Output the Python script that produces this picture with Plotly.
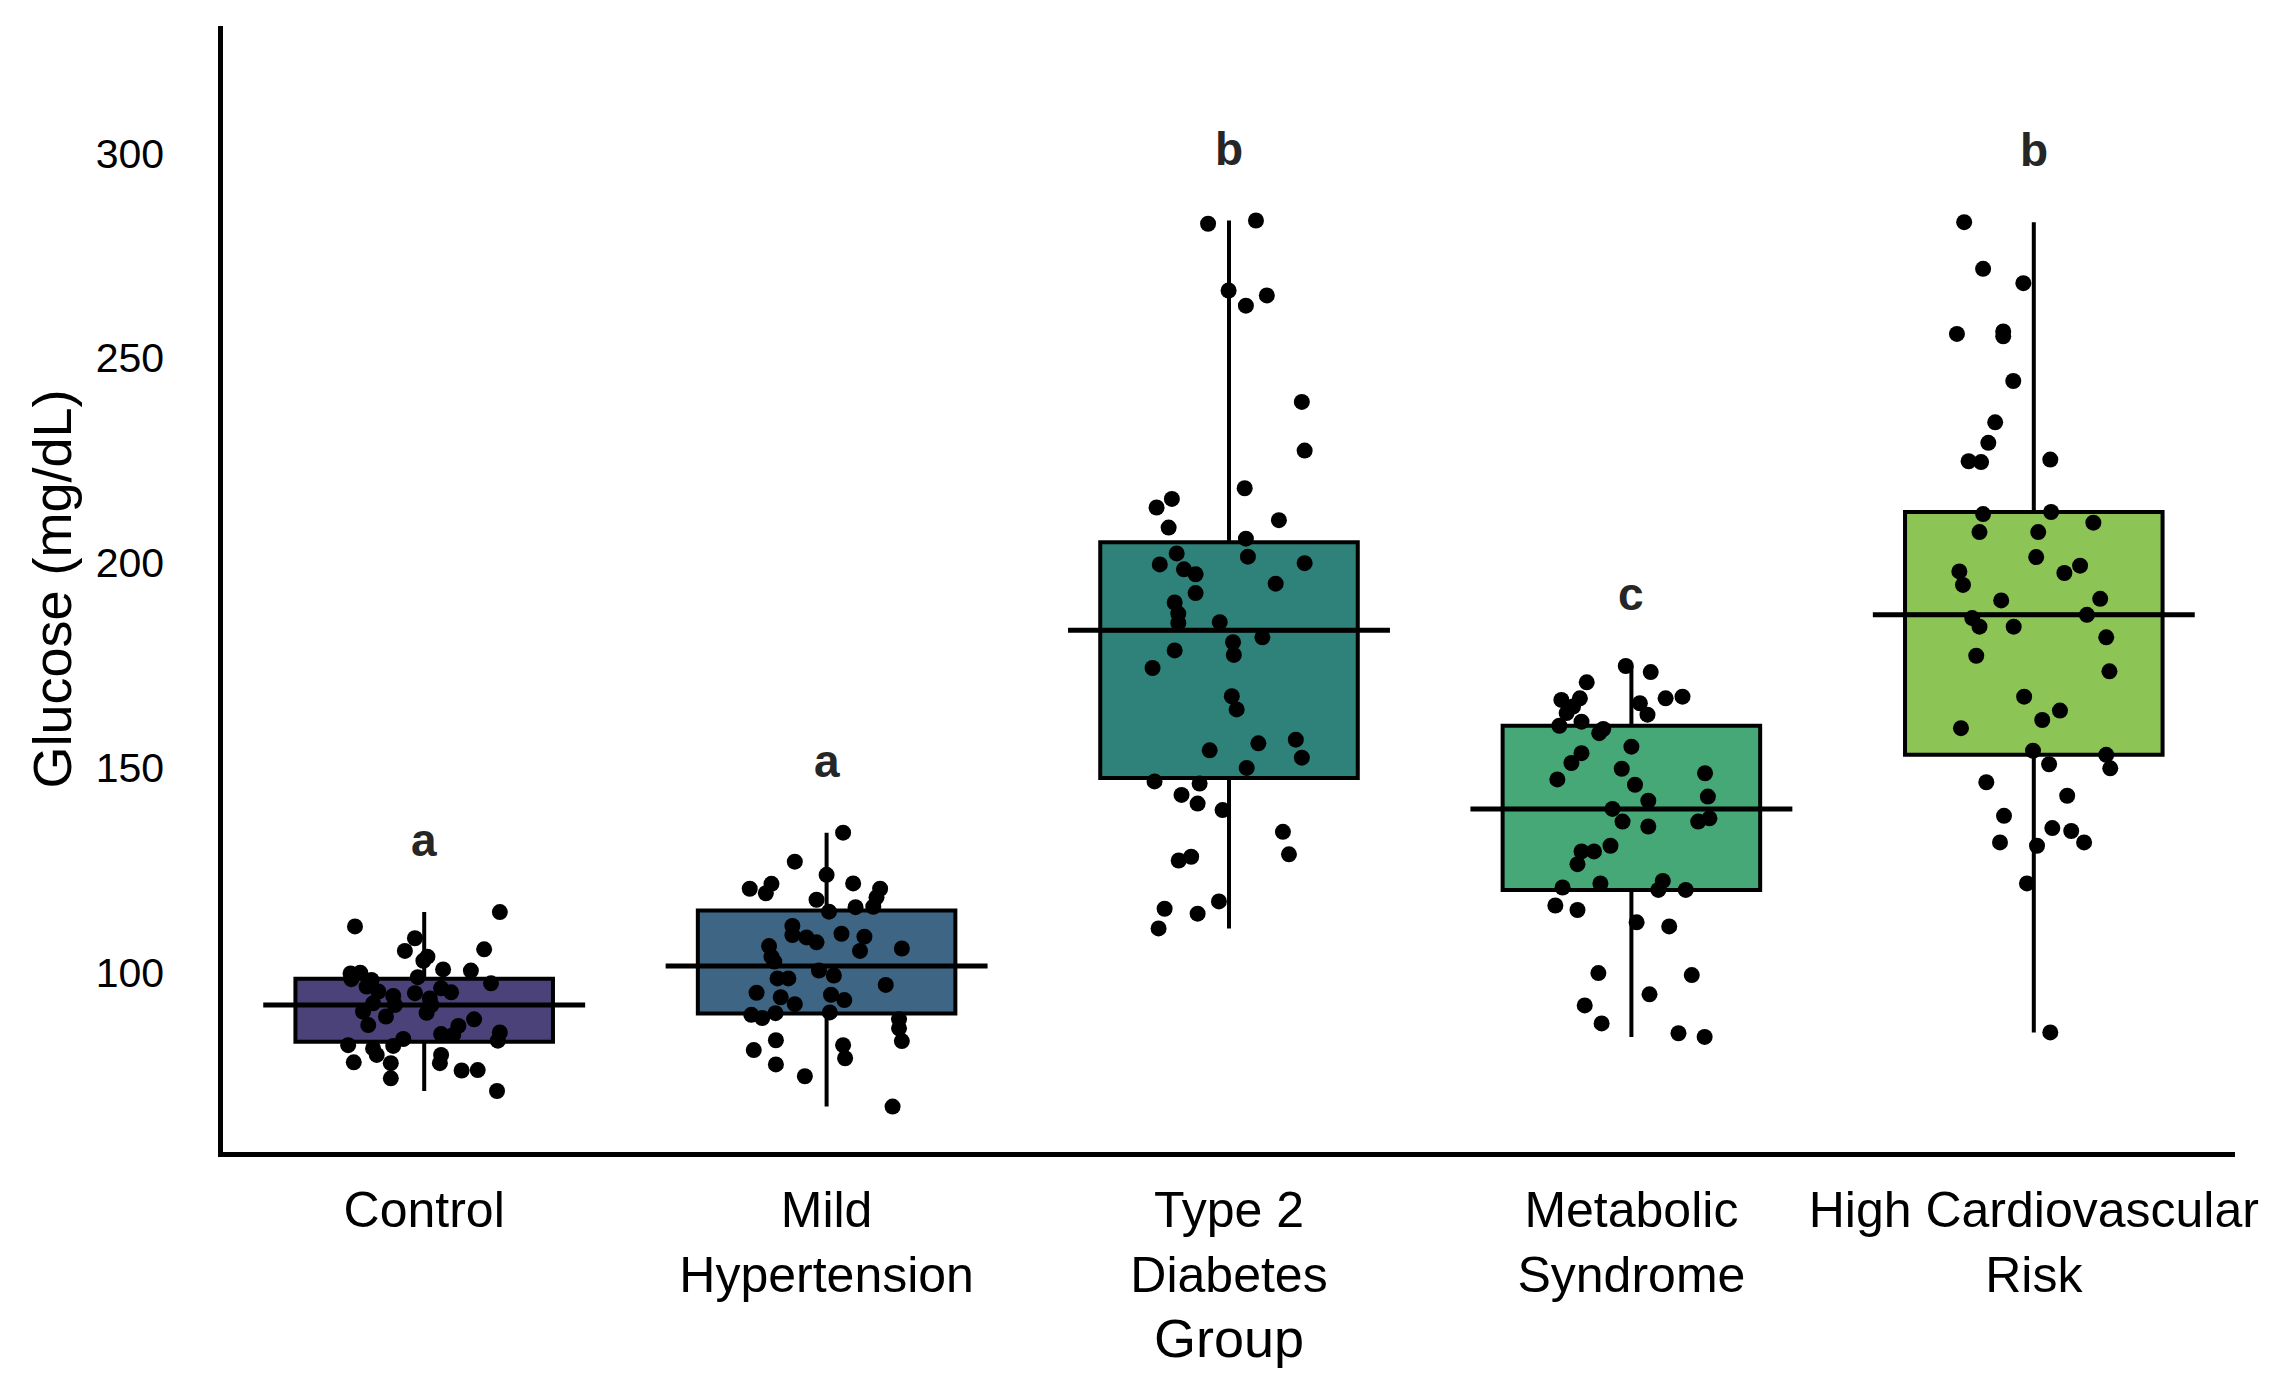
import numpy as np
import plotly.graph_objects as go

# groups shown on the x axis
groups = ["Control", "Mild<br>Hypertension", "Type 2<br>Diabetes",
          "Metabolic<br>Syndrome", "High Cardiovascular<br>Risk"]
letters = ["a", "a", "b", "c", "b"]
box_colors = ["#4a4278", "#3e6684", "#2e8279", "#46a876", "#8cc456"]

# glucose values (mg/dL) and the horizontal jitter of each dot
control_glucose = [114.7, 111.2, 108.3, 105.2, 105.6, 103.8, 102.8, 100.7, 100.4, 99.7,
                   99.9, 98.3, 98.8, 98.1, 97.3, 96.5, 95.3, 96.1, 95.1, 94.9,
                   94.2, 93.6, 92.4, 92.0, 92.0, 90.4, 90.1, 89.2, 88.5, 87.1,
                   86.9, 85.3, 84.9, 84.7, 83.7, 82.2, 83.3, 82.0, 81.4, 79.8,
                   79.8, 77.8, 78.0, 77.8, 76.0, 76.1, 74.1, 71.0]
control_jitter = [0.188, -0.172, -0.023, -0.048, 0.149, 0.008, -0.002, 0.047, 0.116, -0.183,
                  -0.159, -0.181, -0.016, -0.131, 0.166, -0.143, -0.114, 0.042, 0.067, -0.023,
                  -0.077, 0.014, -0.127, -0.073, 0.018, -0.152, 0.006, -0.095, 0.124, -0.139,
                  0.085, 0.188, 0.042, 0.072, -0.052, -0.189, 0.183, -0.077, -0.127, -0.118,
                  0.042, 0.039, -0.175, -0.083, 0.093, 0.133, -0.083, 0.181]

mild_glucose = [134.1, 127.0, 123.8, 120.4, 121.6, 119.3, 121.7, 120.4, 118.3, 116.0,
                117.7, 115.9, 114.8, 111.3, 109.1, 108.5, 107.3, 109.4, 108.7, 105.2,
                105.8, 106.4, 103.8, 102.6, 100.4, 99.2, 98.5, 98.5, 96.9, 95.0,
                93.9, 94.5, 93.2, 92.2, 89.6, 88.8, 90.0, 90.2, 88.5, 86.3,
                83.2, 83.4, 81.0, 82.2, 79.0, 77.5, 74.6, 67.2]
mild_jitter = [0.041, -0.079, 0.000, -0.191, -0.137, -0.151, 0.066, 0.133, 0.124, 0.116,
               -0.025, 0.072, 0.006, -0.085, -0.085, -0.050, -0.025, 0.037, 0.094, 0.083,
               0.187, -0.143, -0.137, -0.130, -0.019, 0.018, -0.122, -0.095, 0.147, -0.174,
               -0.114, 0.011, 0.044, -0.079, -0.187, -0.160, -0.127, 0.008, 0.180, 0.180,
               0.187, -0.126, -0.181, 0.041, 0.046, -0.126, -0.054, 0.164]

t2d_glucose = [282.8, 283.6, 266.5, 265.3, 262.8, 239.3, 227.4, 218.2, 215.6, 213.5,
               208.6, 210.4, 205.9, 201.5, 202.3, 199.6, 199.9, 198.4, 197.2, 194.9,
               192.6, 190.3, 187.6, 185.3, 185.5, 181.8, 180.6, 177.5, 178.6, 174.3,
               167.4, 164.2, 154.2, 155.9, 156.8, 152.4, 149.9, 146.6, 146.1, 143.3,
               141.2, 139.6, 134.3, 128.8, 127.3, 128.2, 117.3, 115.5, 114.3, 110.7]
t2d_jitter = [-0.052, 0.067, -0.001, 0.094, 0.042, 0.181, 0.188, 0.039, -0.142, -0.180,
              -0.150, 0.124, 0.042, 0.047, -0.130, -0.172, 0.188, -0.112, -0.083, 0.116,
              -0.083, -0.135, -0.126, -0.126, -0.023, 0.083, 0.010, 0.012, -0.135, -0.190,
              0.007, 0.019, -0.048, 0.073, 0.166, 0.181, 0.044, -0.185, -0.073, -0.118,
              -0.078, -0.016, 0.134, 0.149, -0.125, -0.094, -0.025, -0.160, -0.078, -0.175]

metabolic_glucose = [174.8, 173.3, 170.8, 166.5, 166.9, 164.9, 163.3, 165.7, 162.9, 166.9,
                     167.3, 160.2, 161.2, 158.4, 159.4, 155.1, 153.5, 151.1, 147.1, 149.7,
                     145.8, 148.6, 142.9, 141.9, 139.9, 136.8, 135.6, 136.8, 137.6, 130.9,
                     129.5, 129.5, 126.4, 120.7, 121.7, 122.3, 120.1, 120.1, 116.3, 115.2,
                     112.2, 111.2, 99.8, 99.3, 94.6, 91.9, 87.5, 85.1, 84.2]
metabolic_jitter = [-0.014, 0.048, -0.111, -0.174, -0.128, -0.145, -0.161, 0.021, 0.040, 0.085,
                    0.127, -0.179, -0.124, -0.080, -0.070, 0.000, -0.124, -0.149, -0.184, -0.024,
                    0.009, 0.183, 0.190, 0.042, -0.047, -0.022, 0.042, 0.166, 0.194, -0.052,
                    -0.124, -0.093, -0.134, -0.171, -0.077, 0.078, 0.067, 0.135, -0.189, -0.134,
                    0.013, 0.094, -0.082, 0.150, 0.045, -0.116, -0.074, 0.117, 0.182]

high_glucose = [283.2, 271.8, 268.3, 255.9, 256.5, 255.3, 244.4, 234.3, 229.3, 224.8,
                224.6, 225.2, 211.9, 212.4, 207.5, 207.5, 209.8, 201.4, 197.9, 194.6,
                197.5, 199.3, 190.8, 191.2, 187.3, 186.5, 184.4, 184.4, 181.8, 177.3,
                173.5, 167.3, 163.9, 161.6, 159.6, 154.1, 153.1, 150.8, 149.8, 146.4,
                143.1, 138.2, 135.2, 134.5, 131.7, 131.7, 130.9, 121.7, 85.3]
high_jitter = [-0.173, -0.126, -0.026, -0.191, -0.076, -0.076, -0.051, -0.096, -0.113, -0.162,
               -0.131, 0.041, -0.126, 0.043, -0.135, 0.011, 0.148, 0.006, -0.185, -0.176,
               0.076, 0.115, -0.081, 0.165, 0.132, -0.153, -0.135, -0.050, 0.180, -0.143,
               0.188, -0.024, 0.065, 0.021, -0.181, -0.002, 0.180, 0.038, 0.190, -0.118,
               0.083, -0.074, 0.046, 0.093, -0.084, 0.125, 0.008, -0.017, 0.041]

all_glucose = [control_glucose, mild_glucose, t2d_glucose, metabolic_glucose, high_glucose]
all_jitter = [control_jitter, mild_jitter, t2d_jitter, metabolic_jitter, high_jitter]

font = "Liberation Sans, Arial, sans-serif"
fig = go.Figure()

for i, (vals, jit) in enumerate(zip(all_glucose, all_jitter)):
    v = np.array(vals)
    q1, med, q3 = np.percentile(v, [25, 50, 75])
    # box with whiskers going to min / max
    fig.add_trace(go.Box(x=[i], q1=[q1], median=[med], q3=[q3],
                         lowerfence=[v.min()], upperfence=[v.max()],
                         width=0.64, whiskerwidth=0, fillcolor=box_colors[i],
                         line=dict(color="black", width=4), showlegend=False,
                         hoverinfo="skip"))
    # median line is wider than the box
    fig.add_trace(go.Scatter(x=[i - 0.4, i + 0.4], y=[med, med], mode="lines",
                             line=dict(color="black", width=5), showlegend=False))
    # jittered points
    fig.add_trace(go.Scatter(x=i + np.array(jit), y=v, mode="markers",
                             marker=dict(color="black", size=16), showlegend=False))
    # significance letter
    fig.add_annotation(x=i, y=v.max() + 17.5, text="<b>" + letters[i] + "</b>",
                       showarrow=False, font=dict(size=46, color="#262626", family=font))

# page body has an 8px margin, so the figure is a little smaller than the window
fig.update_layout(
    width=2279, height=1390,
    margin=dict(l=215, r=52, t=18, b=246),
    plot_bgcolor="white", paper_bgcolor="white",
    font=dict(family=font, color="black"),
    showlegend=False,
)
fig.update_xaxes(range=[-0.5, 4.5], tickvals=list(range(5)), ticktext=groups,
                 showgrid=False, zeroline=False, showline=True, linecolor="black",
                 linewidth=4.5, ticks="", tickfont=dict(size=50), ticklabelstandoff=10,
                 title=dict(text="Group", font=dict(size=54), standoff=19))
fig.update_yaxes(range=[56.1, 331.1], tickvals=[100, 150, 200, 250, 300],
                 showgrid=False, zeroline=False, showline=True, linecolor="black",
                 linewidth=4.5, ticks="", tickfont=dict(size=41), ticklabelstandoff=46,
                 title=dict(text="Glucose (mg/dL)", font=dict(size=54), standoff=8))

fig.write_html("out.html")
